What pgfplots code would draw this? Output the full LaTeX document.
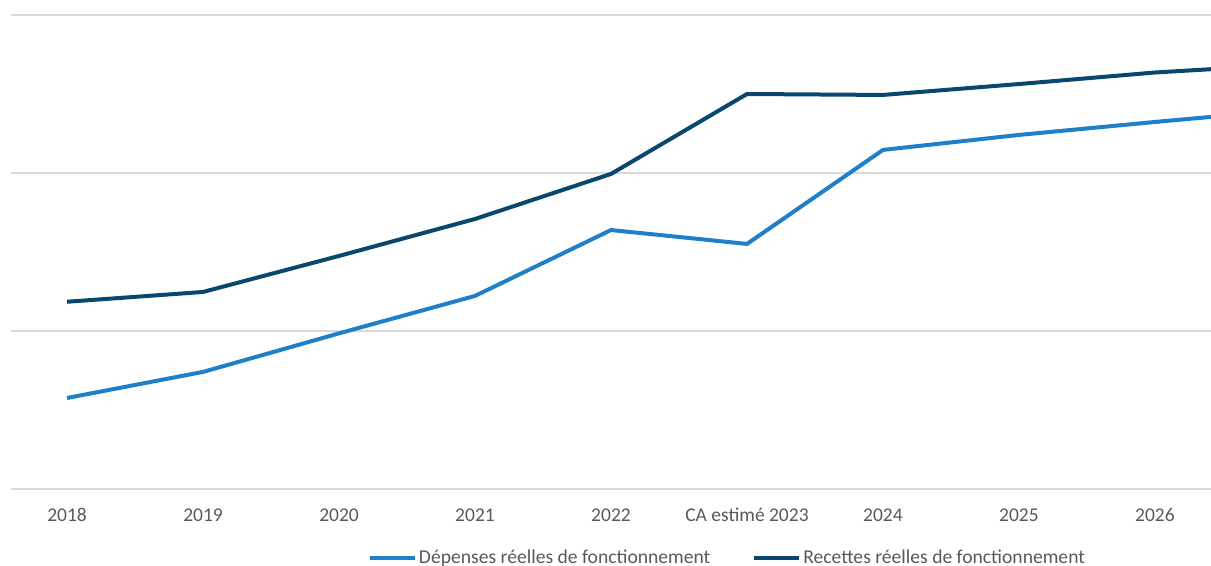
\documentclass[border=0pt]{standalone}
\usepackage{fontspec}
\setmainfont{Carlito}
\usepackage{pgfplots}
\pgfplotsset{compat=1.18}
\definecolor{lightb}{HTML}{1F80C8}
\definecolor{darkb}{HTML}{0B466F}
\definecolor{gridc}{HTML}{D9D9D9}
\definecolor{txt}{HTML}{595959}
\begin{document}
\begin{tikzpicture}
\begin{axis}[
  name=ax,
  scale only axis,
  width=600pt, height=237pt,
  xmin=-0.412, xmax=8.412,
  ymin=0, ymax=3,
  ytick={0,1,2,3}, yticklabels={},
  ymajorgrids, grid style={gridc, line width=0.75pt},
  axis line style={draw=none},
  major tick length=0pt,
  xtick={0,...,8},
  xticklabels={2018,2019,2020,2021,2022,CA estimé 2023,2024,2025,2026},
  xticklabel style={anchor=base, yshift=-16.25pt, text=txt, font=\fontsize{9.75}{11}\selectfont},
  legend columns=2,
  legend style={draw=none, fill=none, inner sep=0pt, outer sep=0pt,
    at={(rel axis cs:0.2975,-0.145)}, anchor=west,
    font=\fontsize{9.8}{11}\selectfont, text=txt,
    nodes={inner xsep=1pt, inner ysep=1pt}},
  /tikz/every even column/.append style={column sep=20pt},
  legend image code/.code={\draw[#1, line width=2pt] (0pt,0pt) -- (22.5pt,0pt);},
]
\addplot[lightb, line width=2pt, line join=round] coordinates {
 (0,0.576) (1,0.741) (2,0.985) (3,1.222) (4,1.639) (5,1.551) (6,2.146) (7,2.241) (8,2.323) (9,2.401)};
\addlegendentry{Dépenses réelles de fonctionnement}
\addplot[darkb, line width=2pt, line join=round] coordinates {
 (0,1.185) (1,1.247) (2,1.475) (3,1.709) (4,1.994) (5,2.500) (6,2.494) (7,2.563) (8,2.636) (9,2.687)};
\addlegendentry{Recettes réelles de fonctionnement}
\end{axis}
\pgfresetboundingbox
\path[use as bounding box] ([xshift=-5.5pt,yshift=-38.5pt]ax.south west) rectangle ([yshift=7.5pt]ax.north east);
\end{tikzpicture}
\end{document}
